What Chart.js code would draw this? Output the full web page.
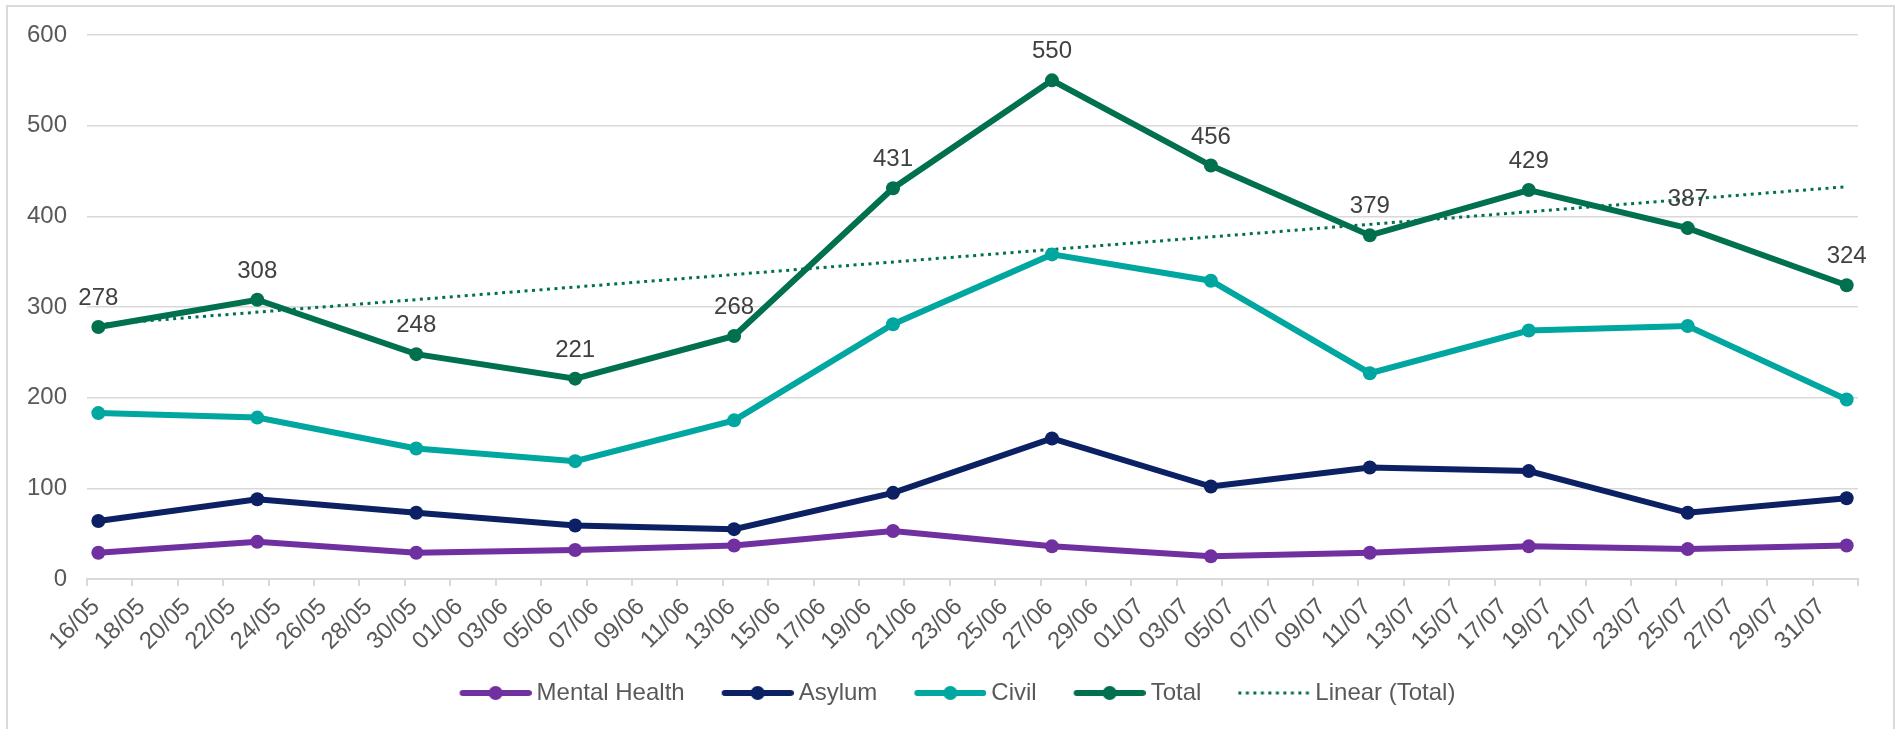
<!DOCTYPE html>
<html>
<head>
<meta charset="utf-8">
<script src="https://cdn.jsdelivr.net/npm/chart.js@4.4.1/dist/chart.umd.min.js"></script>
<style>
  html, body { margin: 0; padding: 0; background: #ffffff; }
  #wrap { position: relative; width: 1895px; height: 729px; }
</style>
</head>
<body>
<div id="wrap"><canvas id="chart" width="1895" height="729"></canvas></div>
<script>
// Weekly counts, each week starting on the listed day (dd/mm)
const weekStarts = ['16/05', '23/05', '30/05', '06/06', '13/06', '20/06', '27/06', '04/07', '11/07', '18/07', '25/07', '01/08'];
const mentalHealth = [29, 41, 29, 32, 37, 53, 36, 25, 29, 36, 33, 37];
const asylum       = [64, 88, 73, 59, 55, 95, 155, 102, 123, 119, 73, 89];
const civil        = [183, 178, 144, 130, 175, 281, 358, 329, 227, 274, 279, 198];
const total        = [278, 308, 248, 221, 268, 431, 550, 456, 379, 429, 387, 324];

// Date axis labels, one every two days
const tickLabels = ['16/05', '18/05', '20/05', '22/05', '24/05', '26/05', '28/05', '30/05',
  '01/06', '03/06', '05/06', '07/06', '09/06', '11/06', '13/06', '15/06', '17/06', '19/06',
  '21/06', '23/06', '25/06', '27/06', '29/06', '01/07', '03/07', '05/07', '07/07', '09/07',
  '11/07', '13/07', '15/07', '17/07', '19/07', '21/07', '23/07', '25/07', '27/07', '29/07', '31/07'];

const seriesColors = {
  mental: '#7030A0',
  asylum: '#0B2163',
  civil:  '#00A6A0',
  total:  '#00704F'
};

const FONT = '"Liberation Sans", Arial, sans-serif';
const TEXT_GREY = '#595959';
const GRID = '#D9D9D9';

// legend swatch geometry: box width, blank lead-in, line length
const SWATCH_BOX = 90;
const SWATCH_LEAD = 25;
const SWATCH_LINE = 72;

// day offset of a dd/mm string from the first week start
function dayOffset(ddmm) {
  const [d0, m0] = weekStarts[0].split('/').map(Number);
  const [d, m] = ddmm.split('/').map(Number);
  return (Date.UTC(2000, m - 1, d) - Date.UTC(2000, m0 - 1, d0)) / 86400000;
}
// points sit in the middle of their day on the date axis
const xs = weekStarts.map(s => dayOffset(s) + 0.5);
const toPoints = arr => arr.map((v, i) => ({ x: xs[i], y: v }));

// least-squares trend of the Total series
function linearTrend(xv, yv) {
  const n = xv.length;
  const mx = xv.reduce((a, b) => a + b, 0) / n;
  const my = yv.reduce((a, b) => a + b, 0) / n;
  let sxy = 0, sxx = 0;
  for (let i = 0; i < n; i++) { sxy += (xv[i] - mx) * (yv[i] - my); sxx += (xv[i] - mx) ** 2; }
  const slope = sxy / sxx;
  const icpt = my - slope * mx;
  return [xv[0], xv[n - 1]].map(x => ({ x, y: icpt + slope * x }));
}

// small legend swatches: line with a marker, or a dotted line
function swatch(color, dotted) {
  const w = SWATCH_BOX + 14;
  const x0 = w / 2 - SWATCH_BOX / 2 + SWATCH_LEAD;
  const x1 = x0 + SWATCH_LINE;
  const c = document.createElement('canvas');
  c.width = w; c.height = 16;
  const g = c.getContext('2d');
  g.strokeStyle = color;
  g.fillStyle = color;
  if (dotted) {
    g.lineWidth = 3;
    g.setLineDash([3, 4.5]);
    g.beginPath(); g.moveTo(x0, 8); g.lineTo(x1, 8); g.stroke();
  } else {
    g.lineWidth = 6;
    g.lineCap = 'round';
    g.beginPath(); g.moveTo(x0 + 3, 8); g.lineTo(x1 - 3, 8); g.stroke();
    g.beginPath(); g.arc((x0 + x1) / 2, 8, 7, 0, Math.PI * 2); g.fill();
  }
  return c;
}

function lineSet(label, arr, color) {
  return {
    label,
    data: toPoints(arr),
    borderColor: color,
    backgroundColor: color,
    borderWidth: 6,
    pointRadius: 7,
    pointBorderWidth: 0,
    pointBackgroundColor: color,
    tension: 0,
    fill: false,
    legendSwatch: swatch(color, false)
  };
}

const datasets = [
  lineSet('Mental Health', mentalHealth, seriesColors.mental),
  lineSet('Asylum', asylum, seriesColors.asylum),
  lineSet('Civil', civil, seriesColors.civil),
  lineSet('Total', total, seriesColors.total),
  {
    label: 'Linear (Total)',
    data: linearTrend(xs, total),
    borderColor: seriesColors.total,
    borderWidth: 3,
    borderDash: [3, 4.5],
    pointRadius: 0,
    tension: 0,
    fill: false,
    legendSwatch: swatch(seriesColors.total, true)
  }
];

// value labels above the Total markers
const totalLabels = {
  id: 'totalLabels',
  afterDatasetsDraw(chart) {
    const idx = chart.data.datasets.findIndex(d => d.label === 'Total');
    const meta = chart.getDatasetMeta(idx);
    const ctx = chart.ctx;
    ctx.save();
    ctx.font = '24px ' + FONT;
    ctx.fillStyle = '#404040';
    ctx.textAlign = 'center';
    ctx.textBaseline = 'alphabetic';
    meta.data.forEach((pt, i) => {
      ctx.fillText(String(total[i]), pt.x, pt.y - 22);
    });
    ctx.restore();
  }
};

// thin frame around the chart
const frame = {
  id: 'frame',
  beforeDraw(chart) {
    const ctx = chart.ctx;
    ctx.save();
    ctx.strokeStyle = GRID;
    ctx.lineWidth = 2;
    ctx.strokeRect(7, 6, 1887, 760);
    ctx.restore();
  }
};

// let the value-axis labels use the left margin instead of being clipped to the narrow axis box
const yLabelRoom = {
  id: 'yLabelRoom',
  afterLayout(chart) { chart.scales.y.left = 0; }
};

new Chart(document.getElementById('chart'), {
  type: 'line',
  data: { datasets },
  plugins: [frame, yLabelRoom, totalLabels],
  options: {
    responsive: false,
    animation: false,
    devicePixelRatio: 1,
    events: [],
    layout: { padding: { left: 32, right: 37, top: 35, bottom: 14 } },
    scales: {
      x: {
        type: 'linear',
        min: 0,
        max: 78,
        afterFit(scale) { scale.height = 90; },
        afterBuildTicks(scale) {
          scale.ticks = [];
          for (let v = 0; v <= 78; v += 2) scale.ticks.push({ value: v });
        },
        grid: {
          drawOnChartArea: false,
          drawTicks: true,
          tickLength: 7,
          color: GRID,
          lineWidth: 2
        },
        border: { display: true, color: GRID, width: 2 },
        ticks: {
          autoSkip: false,
          minRotation: 45,
          maxRotation: 45,
          padding: 7,
          labelOffset: 9,
          color: TEXT_GREY,
          font: { family: FONT, size: 24 },
          callback: v => tickLabels[v / 2] || ''
        }
      },
      y: {
        min: 0,
        max: 600,
        afterFit(scale) { scale.width = 55; },
        grid: { color: GRID, lineWidth: 1.5, drawTicks: false },
        border: { display: false },
        ticks: {
          stepSize: 100,
          padding: 20,
          color: TEXT_GREY,
          font: { family: FONT, size: 24 }
        }
      }
    },
    plugins: {
      tooltip: { enabled: false },
      legend: {
        position: 'bottom',
        labels: {
          usePointStyle: true,
          pointStyleWidth: SWATCH_BOX,
          padding: 12,
          color: TEXT_GREY,
          font: { family: FONT, size: 24 },
          generateLabels(chart) {
            return chart.data.datasets.map((ds, i) => ({
              text: ds.label,
              datasetIndex: i,
              pointStyle: ds.legendSwatch,
              fontColor: TEXT_GREY,
              lineWidth: 0,
              hidden: false
            }));
          }
        }
      }
    }
  }
});
</script>
</body>
</html>
